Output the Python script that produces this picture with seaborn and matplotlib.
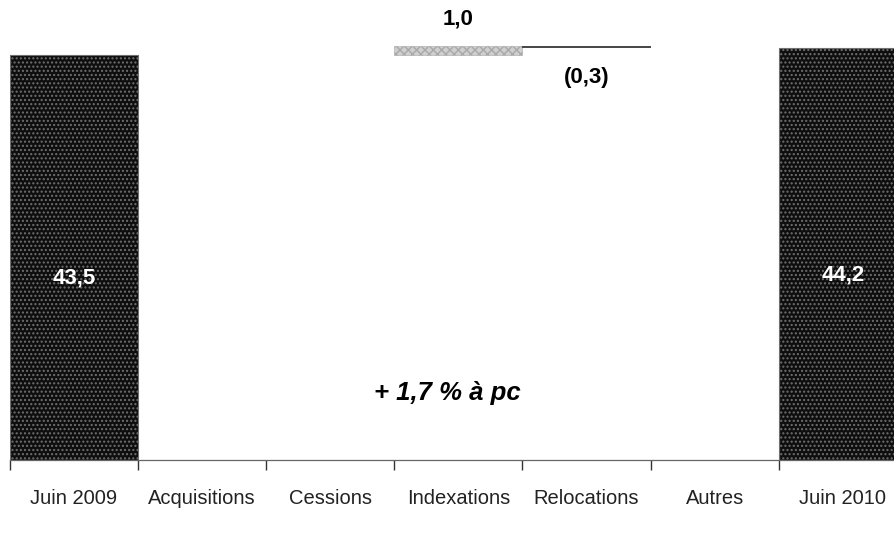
import numpy as np
import pandas as pd
import matplotlib
matplotlib.use("Agg")
import matplotlib.pyplot as plt
import seaborn as sns

# Bridge of revenue (M€) from June 2009 to June 2010
categories = ["Juin 2009", "Acquisitions", "Cessions", "Indexations",
              "Relocations", "Autres", "Juin 2010"]
values = [43.5, 0.0, 0.0, 1.0, -0.3, 0.0, 44.2]
is_total = [True, False, False, False, False, False, True]
value_labels = ["43,5", "", "", "1,0", "(0,3)", "", "44,2"]
growth_note = "+ 1,7 % à pc"

# Waterfall geometry: totals stand on zero, deltas float on the running sum
bottoms, heights = [], []
running = 0.0
for v, tot in zip(values, is_total):
    if tot:
        bottoms.append(0.0)
        heights.append(v)
        running = v
    else:
        bottoms.append(running + min(v, 0.0))
        heights.append(abs(v))
        running += v

df = pd.DataFrame({"cat": categories, "height": heights})

sns.set_theme(style="white")
plt.rcParams["font.family"] = ["Liberation Sans", "DejaVu Sans"]

fig = plt.figure(figsize=(8.94, 5.36), dpi=100)
ax = fig.add_axes([10 / 894, 76 / 536, 884 / 894, 460 / 536])

face = {"Juin 2009": "#0e0e0e", "Juin 2010": "#0e0e0e",
        "Indexations": "#cfcfcf", "Relocations": "#4a4a4a",
        "Acquisitions": "#4a4a4a", "Cessions": "#4a4a4a", "Autres": "#4a4a4a"}

sns.barplot(data=df, x="cat", y="height", hue="cat", palette=face,
            order=categories, hue_order=categories, width=1.0,
            legend=False, ax=ax, saturation=1)

for patch, b, cat, tot in zip(ax.patches, bottoms, categories, is_total):
    patch.set_y(b)
    if tot:
        patch.set_edgecolor("#707070")
        patch.set_hatch("....")
        patch.set_linewidth(0.8)
    elif cat == "Indexations":
        patch.set_edgecolor("#a8a8a8")
        patch.set_hatch("xxxx")
        patch.set_linewidth(0.4)
    else:
        patch.set_edgecolor("none")

# Value labels
for i, (lab, v, b, h, tot) in enumerate(zip(value_labels, values, bottoms,
                                              heights, is_total)):
    if not lab:
        continue
    if tot:
        ax.text(i, v * 0.45, lab, ha="center", va="center", color="white",
                fontsize=16, fontweight="bold")
    elif v > 0:
        ax.text(i, b + h + 1.7, lab, ha="center", va="bottom", color="black",
                fontsize=16, fontweight="bold")
    else:
        ax.text(i, b - 2.0, lab, ha="center", va="top", color="black",
                fontsize=16, fontweight="bold")

ax.text(2.91, 7.2, growth_note, ha="center", va="center", fontsize=18.5,
        fontweight="bold", fontstyle="italic", color="black")

ax.set_xlim(-0.5, 6.4)
ax.set_ylim(0, 49.4)
ax.set_xlabel("")
ax.set_ylabel("")
ax.set_yticks([])

# Category labels centred, tick marks on category boundaries
ax.set_xticks(range(len(categories)))
ax.set_xticklabels(categories, fontsize=14.5, color="#222222")
ax.tick_params(axis="x", which="major", length=0, pad=21)
ax.set_xticks(np.arange(-0.5, len(categories) - 1, 1.0), minor=True)
ax.tick_params(axis="x", which="minor", length=7, width=1.0,
               color="#333333", direction="out", bottom=True)

for side in ["top", "right", "left"]:
    ax.spines[side].set_visible(False)
ax.spines["bottom"].set_color("#666666")
ax.spines["bottom"].set_linewidth(0.9)
ax.spines["bottom"].set_linestyle((0, (3, 1)))

fig.savefig("out.png", dpi=100, facecolor="white")
